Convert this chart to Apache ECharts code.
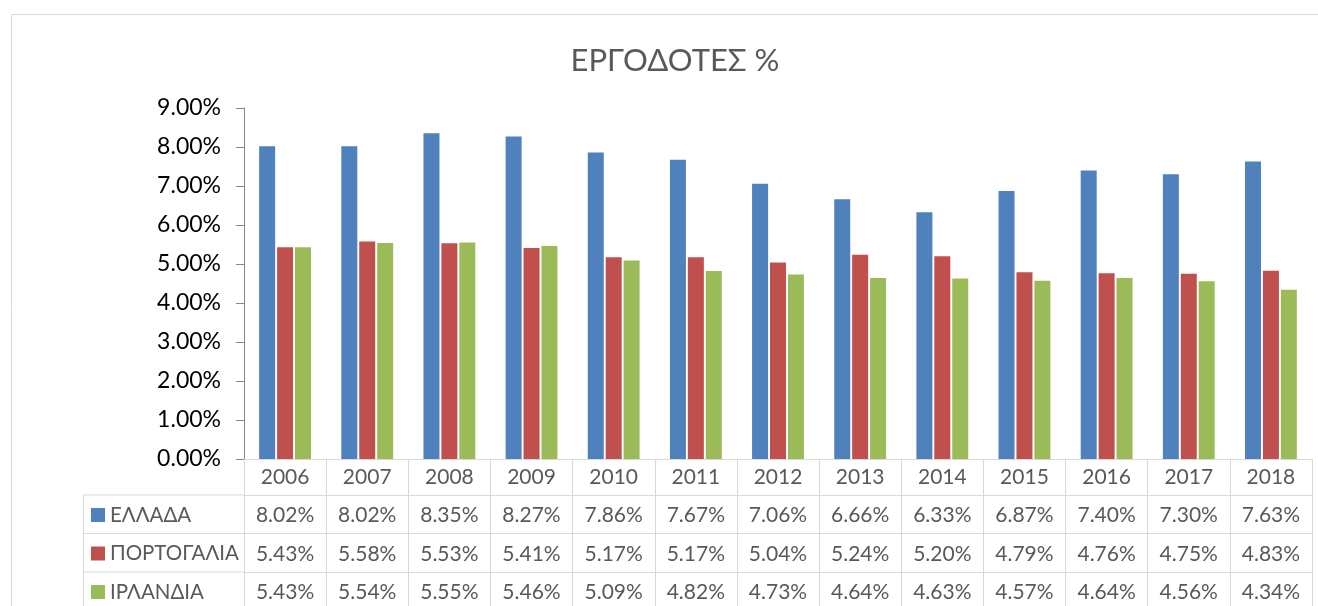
<!DOCTYPE html>
<html>
<head>
<meta charset="utf-8">
<script src="https://cdn.jsdelivr.net/npm/echarts@6/dist/echarts.min.js"></script>
<style>
  html, body { margin: 0; padding: 0; background: #fff; }
  #chart { width: 1318px; height: 606px; }
</style>
</head>
<body>
<div id="chart"></div>
<script>
const years = ['2006', '2007', '2008', '2009', '2010', '2011', '2012', '2013', '2014', '2015', '2016', '2017', '2018'];
const seriesNames = ['ΕΛΛΑΔΑ', 'ΠΟΡΤΟΓΑΛΙΑ', 'ΙΡΛΑΝΔΙΑ'];
const greece = [8.02, 8.02, 8.35, 8.27, 7.86, 7.67, 7.06, 6.66, 6.33, 6.87, 7.40, 7.30, 7.63];
const portugal = [5.43, 5.58, 5.53, 5.41, 5.17, 5.17, 5.04, 5.24, 5.20, 4.79, 4.76, 4.75, 4.83];
const ireland = [5.43, 5.54, 5.55, 5.46, 5.09, 4.82, 4.73, 4.64, 4.63, 4.57, 4.64, 4.56, 4.34];
const colors = ['#4F81BD', '#C0504D', '#9BBB59'];

const font = 'Lato, "Noto Sans", sans-serif';
const gridColor = '#d9d9d9';
const allValues = [greece, portugal, ireland];
const pct = v => v.toFixed(2) + '%';

// table rows as extra category axes below the plot
const rowOffsets = [36, 74.5, 113];
const rowAxes = allValues.map((vals, i) => ({
    type: 'category',
    position: 'bottom',
    offset: rowOffsets[i],
    data: vals.map(pct),
    axisLine: { show: true, lineStyle: { color: gridColor } },
    axisTick: { show: false },
    axisLabel: { interval: 0, margin: 10, fontSize: 21, color: '#595959', fontFamily: font }
}));

const legendCells = [];
seriesNames.forEach((name, i) => {
    const y = 495 + i * 38.5;
    legendCells.push({ type: 'line', shape: { x1: 83, y1: y, x2: 244, y2: y }, style: { stroke: gridColor, lineWidth: 1 } });
    legendCells.push({ type: 'rect', shape: { x: 91, y: y + 13, width: 14, height: 14 }, style: { fill: colors[i] } });
    legendCells.push({ type: 'text', x: 110, y: y + 20, style: { text: name, fontSize: 20.5, fill: '#595959', fontFamily: font, verticalAlign: 'middle' } });
});

const chart = echarts.init(document.getElementById('chart'));
chart.setOption({
    animation: false,
    color: colors,
    title: {
        text: 'ΕΡΓΟΔΟΤΕΣ %',
        left: 670,
        textAlign: 'center',
        top: 40,
        textStyle: { fontSize: 31, fontWeight: 'normal', color: '#595959', fontFamily: font }
    },
    grid: { left: 244, right: 6, top: 108, bottom: 147 },
    yAxis: {
        type: 'value',
        min: 0,
        max: 9,
        interval: 1,
        axisLine: { show: true, lineStyle: { color: '#868686' } },
        axisTick: { show: true, length: 8, lineStyle: { color: '#868686' } },
        splitLine: { show: false },
        axisLabel: { formatter: v => pct(v), fontSize: 23, color: '#000', margin: 23, fontFamily: font }
    },
    xAxis: [{
        type: 'category',
        data: years,
        axisLine: { show: true, lineStyle: { color: gridColor } },
        axisTick: { show: true, interval: 0, length: 160, lineStyle: { color: gridColor } },
        axisLabel: { interval: 0, margin: 8, fontSize: 21, color: '#595959', fontFamily: font }
    }].concat(rowAxes),
    series: allValues.map((vals, i) => ({
        name: seriesNames[i],
        type: 'bar',
        data: vals,
        barWidth: 16,
        barGap: '12%',
        xAxisIndex: 0
    })),
    graphic: [
        { type: 'rect', z: -10, shape: { x: 11.5, y: 14.5, width: 1400, height: 700 }, style: { fill: 'none', stroke: gridColor, lineWidth: 1 } },
        { type: 'line', shape: { x1: 83.5, y1: 495, x2: 83.5, y2: 620 }, style: { stroke: gridColor, lineWidth: 1 } }
    ].concat(legendCells)
});
</script>
</body>
</html>
